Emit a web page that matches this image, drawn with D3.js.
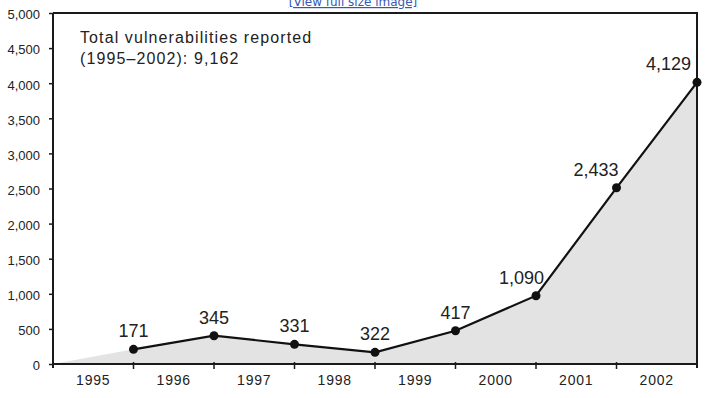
<!DOCTYPE html>
<html>
<head>
<meta charset="utf-8">
<script src="https://cdn.jsdelivr.net/npm/d3@7"></script>
<style>
  body { margin: 0; background: #fff; }
  svg { display: block; font-family: "Liberation Sans", Arial, sans-serif; }
</style>
</head>
<body>
<svg id="chart" width="710" height="398"></svg>
<script>
// data
const years = ['1995', '1996', '1997', '1998', '1999', '2000', '2001', '2002'];
// where the dots sit on the value axis (estimated)
const plotted = [209, 403, 280, 166, 474, 973, 2510, 4012];
// the numbers printed next to the dots
const pointLabels = ['171', '345', '331', '322', '417', '1,090', '2,433', '4,129'];
const yTicks = [0, 500, 1000, 1500, 2000, 2500, 3000, 3500, 4000, 4500, 5000];
const noteLines = ['Total vulnerabilities reported', '(1995\u20132002): 9,162'];

const margin = { top: 13, right: 13, bottom: 34, left: 53 };
const width = 710 - margin.left - margin.right;
const height = 398 - margin.top - margin.bottom;

const svg = d3.select('#chart');

// link text cut off at the top (as in the original)
svg.append('text')
  .attr('x', 353)
  .attr('y', 6)
  .attr('text-anchor', 'middle')
  .style('font-family', '"DejaVu Sans", Verdana, sans-serif')
  .style('font-size', '12px')
  .style('fill', '#3557b7')
  .style('text-decoration', 'underline')
  .text('[View full size image]');

const g = svg.append('g')
  .attr('transform', 'translate(' + margin.left + ',' + margin.top + ')');

const x = d3.scaleBand().domain(years).range([0, width]);
const y = d3.scaleLinear().domain([0, 5000]).range([height, 0]);

// each dot sits at the right edge of its year band
const points = years.map((yr, i) => ({ x: x(yr) + x.bandwidth(), v: plotted[i], label: pointLabels[i], i }));

// grey area, starting from the origin
const area = d3.area()
  .x(d => d.x)
  .y0(y(0))
  .y1(d => y(d.v));
g.append('path')
  .datum([{ x: 0, v: 0 }].concat(points))
  .attr('d', area)
  .style('fill', '#e3e3e3');

// frame: top and right
g.append('path')
  .attr('d', 'M0,0H' + width + 'V' + (height + 4))
  .style('fill', 'none')
  .style('stroke', '#1a1a1a')
  .style('stroke-width', 2);

// y axis
const yAxis = g.append('g')
  .call(d3.axisLeft(y).tickValues(yTicks).tickFormat(d3.format(',')).tickSizeInner(4).tickSizeOuter(0).tickPadding(9));
yAxis.select('.domain').remove();
yAxis.selectAll('.tick line').style('stroke', '#1a1a1a').style('stroke-width', 1.5);
yAxis.selectAll('.tick text')
  .attr('dy', '0.45em')
  .style('font-size', '13px')
  .style('fill', '#222')
  .style('font-family', '"Liberation Sans", Arial, sans-serif');
g.append('line')
  .attr('x1', 0).attr('x2', 0)
  .attr('y1', 0).attr('y2', height + 4)
  .style('stroke', '#1a1a1a')
  .style('stroke-width', 2);

// x axis: labels centred in bands, ticks on band edges
const xAxis = g.append('g')
  .attr('transform', 'translate(0,' + height + ')')
  .call(d3.axisBottom(x).tickSize(0).tickPadding(11));
xAxis.select('.domain').remove();
xAxis.selectAll('.tick text')
  .style('font-size', '14px')
  .style('letter-spacing', '0.8px')
  .style('fill', '#222')
  .style('font-family', '"Liberation Sans", Arial, sans-serif');
g.append('line')
  .attr('x1', 0).attr('x2', width)
  .attr('y1', height).attr('y2', height)
  .style('stroke', '#1a1a1a')
  .style('stroke-width', 2.2);
g.append('g')
  .selectAll('line')
  .data(years.slice(1))
  .enter()
  .append('line')
  .attr('x1', d => x(d)).attr('x2', d => x(d))
  .attr('y1', height - 2).attr('y2', height + 5)
  .style('stroke', '#1a1a1a')
  .style('stroke-width', 1.5);

// line and dots
const line = d3.line().x(d => d.x).y(d => y(d.v));
g.append('path')
  .datum(points)
  .attr('d', line)
  .style('fill', 'none')
  .style('stroke', '#111')
  .style('stroke-width', 2.2);
g.append('g')
  .selectAll('circle')
  .data(points)
  .enter()
  .append('circle')
  .attr('cx', d => d.x)
  .attr('cy', d => y(d.v))
  .attr('r', 4.5)
  .style('fill', '#111');

// value labels: centred above the flat part, tucked left of the steep part
const nudge = { 5: 8, 6: 2, 7: -6 };
g.append('g')
  .selectAll('text')
  .data(points)
  .enter()
  .append('text')
  .attr('x', d => d.x + (d.i in nudge ? nudge[d.i] : 0))
  .attr('y', d => y(d.v) - 12)
  .attr('text-anchor', d => (d.i in nudge ? 'end' : 'middle'))
  .style('font-size', '18px')
  .style('fill', '#222')
  .text(d => d.label);

// note in the top left
g.append('text')
  .attr('x', 27)
  .attr('y', 30)
  .style('font-size', '16px')
  .style('letter-spacing', '1.1px')
  .style('fill', '#222')
  .selectAll('tspan')
  .data(noteLines)
  .enter()
  .append('tspan')
  .attr('x', 27)
  .attr('dy', (d, i) => (i === 0 ? 0 : 21))
  .text(d => d);
</script>
</body>
</html>
